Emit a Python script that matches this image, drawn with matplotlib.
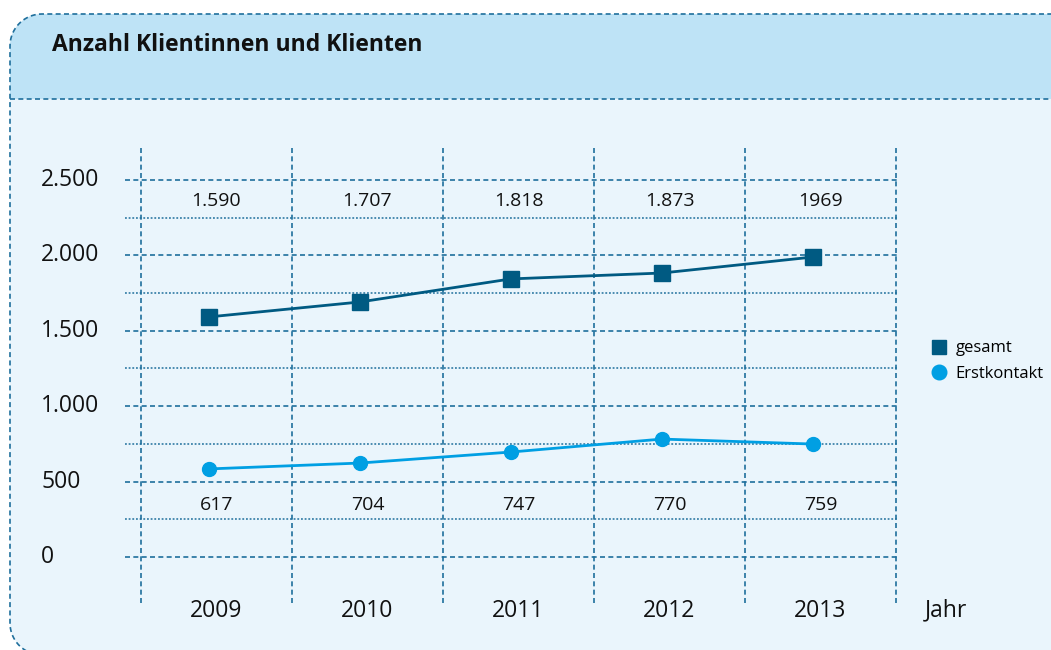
import numpy as np
import matplotlib.pyplot as plt
from matplotlib.patches import Polygon, Rectangle
from matplotlib.lines import Line2D

# === DATA ===
years = ["2009", "2010", "2011", "2012", "2013"]
gesamt = [1592, 1691, 1844, 1883, 1989]          # plotted positions
erstkontakt = [584, 623, 696, 782, 749]
gesamt_labels = ["1.590", "1.707", "1.818", "1.873", "1969"]
erst_labels = ["617", "704", "747", "770", "759"]
y_ticks = [0, 500, 1000, 1500, 2000, 2500]
y_tick_labels = ["0", "500", "1.000", "1.500", "2.000", "2.500"]
y_minor = [250, 750, 1250, 1750, 2250]

# === STYLE ===
W, H = 1051, 650
DARK = "#005a82"
LIGHT = "#009fe3"
GRID = "#1f6f9c"
HEAD_BG = "#bee3f6"
BODY_BG = "#eaf5fc"
FONT = "Open Sans"
TXT = "#111111"


def left_rounded_box(x0, y0, x1, y1, r):
    # pixel coords (y grows downwards), only the left corners are rounded
    t_bot = np.linspace(-np.pi / 2, -np.pi, 20)
    t_top = np.linspace(np.pi, np.pi / 2, 20)
    bot = np.c_[x0 + r + r * np.cos(t_bot), y1 - r - r * np.sin(t_bot)]
    top = np.c_[x0 + r + r * np.cos(t_top), y0 + r - r * np.sin(t_top)]
    return np.vstack([[[x1, y0], [x1, y1]], bot, top])


fig = plt.figure(figsize=(W / 100, H / 100), dpi=100)

# background in pixel coordinates
bg = fig.add_axes([0, 0, 1, 1])
bg.set_xlim(0, W)
bg.set_ylim(H, 0)
bg.axis("off")

verts = left_rounded_box(10, 14, 1200, 655, 32)
box = Polygon(verts, closed=True, facecolor=BODY_BG, edgecolor="none", zorder=1)
bg.add_patch(box)
head = Rectangle((0, 0), 1300, 99, facecolor=HEAD_BG, edgecolor="none", zorder=1.5)
bg.add_patch(head)
head.set_clip_path(box)
edge = np.vstack([verts[2:], verts[:1]])
bg.plot(edge[:, 0], edge[:, 1], color=GRID, lw=1.2, ls=(0, (3, 2)), zorder=3)
bg.plot([10, W], [99, 99], color=GRID, lw=1.2, ls=(0, (3, 2)), zorder=3)

bg.text(52, 45, "Anzahl Klientinnen und Klienten", fontsize=16.5, fontweight="bold",
        family=FONT, color=TXT, ha="left", va="center", zorder=4)

# === CHART ===
ax = fig.add_axes([125 / W, 1 - 603 / H, 772 / W, 455 / H])
ax.patch.set_alpha(0)
ax.set_xlim(-0.606, 4.507)
ax.set_ylim(-305, 2712)
ax.axis("off")

for v in y_ticks:
    ax.axhline(v, color=GRID, lw=1.2, ls=(0, (3, 2)), zorder=1)
for v in y_minor:
    ax.axhline(v, color=GRID, lw=1.1, ls=(0, (1.2, 1.2)), zorder=1)
for i in range(len(years) + 1):
    ax.axvline(i - 0.5, color=GRID, lw=1.2, ls=(0, (3, 2)), zorder=1)

xs = [i - 0.05 for i in range(len(years))]
ax.plot(xs, gesamt, color=DARK, lw=2.0, marker="s", markersize=11.5, zorder=3)
ax.plot(xs, erstkontakt, color=LIGHT, lw=2.0, marker="o", markersize=10, zorder=3)

for i, (g, e) in enumerate(zip(gesamt_labels, erst_labels)):
    ax.text(i, 2361, g, fontsize=14, family=FONT, ha="center", va="center", color=TXT)
    ax.text(i, 345, e, fontsize=14, family=FONT, ha="center", va="center", color=TXT)
    ax.text(i, -355, years[i], fontsize=16.5, family=FONT, ha="center", va="center",
            color=TXT, clip_on=False)

for v, lab in zip(y_ticks, y_tick_labels):
    ax.text(-1.16, v, lab, fontsize=16.5, family=FONT, ha="left", va="center",
            color=TXT, clip_on=False)
ax.text(4.69, -355, "Jahr", fontsize=16.5, family=FONT, ha="left", va="center",
        color=TXT, clip_on=False)

handles = [Line2D([], [], color=DARK, marker="s", ls="none", markersize=10.5),
           Line2D([], [], color=LIGHT, marker="o", ls="none", markersize=10.5)]
fig.legend(handles, ["gesamt", "Erstkontakt"], loc="upper left",
           bbox_to_anchor=(922 / W, 1 - 332 / H), frameon=False,
           prop={"family": FONT, "size": 12}, handlelength=1.0,
           handletextpad=0.5, labelspacing=0.55, borderpad=0)

fig.savefig("out.png", dpi=100)
